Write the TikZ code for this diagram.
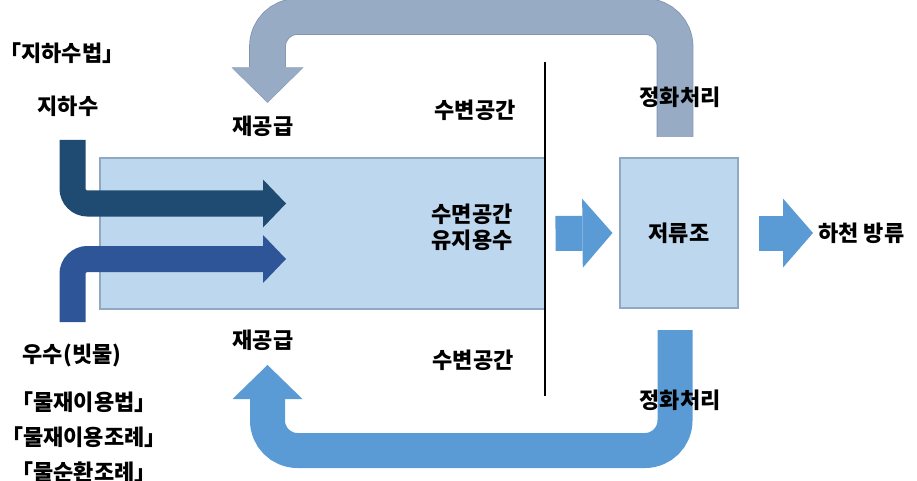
\documentclass[tikz,border=0pt]{standalone}
\usepackage{fontspec}
\setmainfont{Noto Sans CJK KR}
\usetikzlibrary{arrows.meta, positioning}
\definecolor{PondBlue}{HTML}{BDD7EE}
\definecolor{PondEdge}{HTML}{8FA9C2}
\definecolor{ReturnGray}{HTML}{97ABC5}
\definecolor{ReturnEdge}{HTML}{8296B0}
\definecolor{ReturnBlue}{HTML}{5B9BD5}
\definecolor{GroundNavy}{HTML}{1F4B72}
\definecolor{RainBlue}{HTML}{2E5597}
\tikzset{
    % text and boxes
    label text/.style={
        font=\fontsize{16.5}{19.5}\selectfont\bfseries,
        inner sep=0pt,
        align=center
    },
    tank/.style={
        rectangle,
        draw=PondEdge,
        fill=PondBlue,
        line width=0.8pt,
        inner sep=0pt
    },
    % thick arrows
    return arrow/.style={
        line width=26.25pt,
        rounded corners=22.5pt,
        -{Triangle[width=52.5pt, length=25.5pt, line width=0pt]}
    },
    inflow arrow/.style={
        line width=19.5pt,
        rounded corners=11.25pt,
        -{Triangle[width=36pt, length=17.25pt, line width=0pt]}
    },
    block arrow/.style={
        ReturnBlue,
        line width=26.25pt,
        -{Triangle[width=51.75pt, length=22.5pt, line width=0pt]}
    }
}

\begin{document}
\begin{tikzpicture}[x=0.75pt, y=-0.75pt]
    \useasboundingbox (0,0) rectangle (917,481);

    % Pond and storage tank
    \node[tank, minimum width=333.75pt, minimum height=113.25pt] (pond) at (322.5,233.5) {};
    \node[tank, minimum width=88.5pt, minimum height=112.5pt, label text] (tank) at (679,233) {저류조};

    % Inflows
    \coordinate (groundStart) at (72.5,140);
    \coordinate (groundTip) at (286,203.5);
    \coordinate (rainStart) at (72.5,322);
    \coordinate (rainTip) at (286,259);
    \draw[inflow arrow, GroundNavy] (groundStart) |- (groundTip);
    \draw[inflow arrow, RainBlue] (rainStart) |- (rainTip);

    % Return loops
    \coordinate (topStart) at (675,137);
    \coordinate (topTurn) at (267.5,16.5);
    \coordinate (topTip) at (267.5,102);
    \coordinate (botStart) at (675,330);
    \coordinate (botTurn) at (267.5,450.5);
    \coordinate (botTip) at (267.5,365);
    \draw[return arrow, ReturnEdge, line width=27.5pt,
          -{Triangle[width=54pt, length=26.5pt, line width=0pt]}] (topStart) |- (topTurn) -- ([yshift=-0.6pt]topTip);
    \draw[return arrow, ReturnGray] (topStart) |- (topTurn) -- (topTip);
    \draw[return arrow, ReturnBlue] (botStart) |- (botTurn) -- (botTip);

    % Shore divider
    \coordinate (divTop) at (545,62);
    \coordinate (divBot) at (545,396);
    \draw[line width=1.5pt] (divTop) -- (divBot);

    % Labels
    \node[label text] (lawGround) at (62,53) {「지하수법」};
    \node[label text] (ground) at (68,106) {지하수};
    \node[label text] (resupplyTop) at (263,126) {재공급};
    \node[label text] (shoreTop) at (475,110) {수변공간};
    \node[label text] (purifyTop) at (680,97) {정화처리};
    \node[label text] (pondLabel) at (472,227) {수면공간\\유지용수};
    \node[label text, anchor=west] (river) at (818,233) {하천 방류};
    \node[label text] (resupplyBot) at (263,340) {재공급};
    \node[label text] (shoreBot) at (473,360) {수변공간};
    \node[label text] (purifyBot) at (680,400) {정화처리};
    \node[label text] (rain) at (72,355) {우수(빗물)};
    \node[label text, font=\fontsize{16.5}{26}\selectfont\bfseries] (lawRain) at (84,437) {「물재이용법」\\「물재이용조례」\\「물순환조례」};

    % Outflows
    \draw[block arrow] ([xshift=7.5pt]pond.east) -- ([xshift=-5.25pt]tank.west);
    \draw[block arrow] ([xshift=15pt]tank.east) -- ([xshift=-3.75pt]river.west);
\end{tikzpicture}
\end{document}
